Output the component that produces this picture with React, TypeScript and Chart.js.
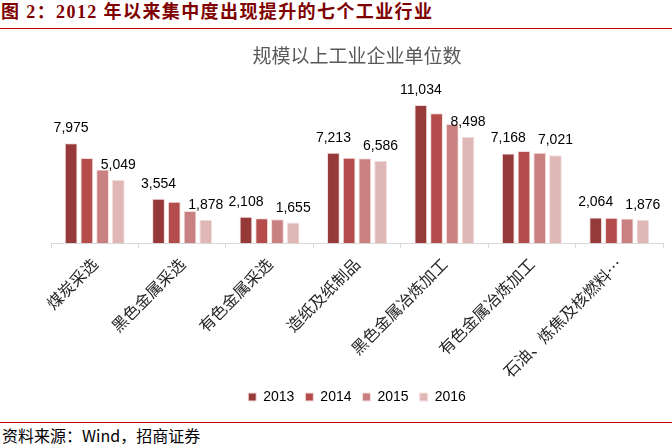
import React, { useEffect, useRef } from "react";
import { Chart, registerables } from "chart.js";

Chart.register(...registerables);

const categories = [
  "煤炭采选",
  "黑色金属采选",
  "有色金属采选",
  "造纸及纸制品",
  "黑色金属冶炼加工",
  "有色金属冶炼加工",
  "石油、炼焦及核燃料…",
];
const years = ["2013", "2014", "2015", "2016"];
const values2013 = [7975, 3554, 2108, 7213, 11034, 7168, 2064];
const values2014 = [6805, 3310, 2000, 6830, 10360, 7355, 2030];
const values2015 = [5885, 2578, 1920, 6780, 9514, 7225, 1980];
const values2016 = [5049, 1878, 1655, 6586, 8498, 7021, 1876];
const colors = ["#953A39", "#B34C4A", "#C98080", "#E0B7B7"];
const labelledSeries = [0, 3];

const headerTitle = "图 2：2012 年以来集中度出现提升的七个工业行业";
const chartTitle = "规模以上工业企业单位数";
const sourceText = "资料来源：Wind，招商证券";

const valueLabelPlugin = {
  id: "valueLabels",
  afterDatasetsDraw(chart: any) {
    const ctx = chart.ctx;
    ctx.save();
    ctx.font = '14px "Liberation Sans", Arial, sans-serif';
    ctx.fillStyle = "#000000";
    ctx.textAlign = "center";
    ctx.textBaseline = "alphabetic";
    labelledSeries.forEach((di) => {
      const meta = chart.getDatasetMeta(di);
      const data = chart.data.datasets[di].data as number[];
      meta.data.forEach((el: any, j: number) => {
        const txt = data[j].toLocaleString("en-US");
        ctx.fillText(txt, el.x, el.y - 11);
      });
    });
    ctx.restore();
  },
};

export default function App() {
  const canvasRef = useRef<HTMLCanvasElement | null>(null);

  useEffect(() => {
    if (!canvasRef.current) return;
    const series = [values2013, values2014, values2015, values2016];
    const chart = new Chart(canvasRef.current, {
      type: "bar",
      data: {
        labels: categories,
        datasets: series.map((vals, i) => ({
          label: years[i],
          data: vals,
          backgroundColor: colors[i],
          borderColor: "#F3DEDD",
          borderWidth: 1,
          categoryPercentage: 0.72,
          barPercentage: 0.81,
        })),
      },
      options: {
        animation: false,
        responsive: false,
        maintainAspectRatio: false,
        layout: { padding: { left: 51, right: 9, top: 0, bottom: 6 } },
        plugins: {
          title: {
            display: true,
            text: chartTitle,
            color: "#595959",
            font: { family: '"Noto Sans CJK SC", sans-serif', size: 19, weight: "normal" },
            padding: { top: 14, bottom: 23.5 },
          },
          legend: {
            display: true,
            position: "bottom",
            labels: {
              boxWidth: 8,
              boxHeight: 8,
              color: "#000000",
              font: { family: '"Liberation Sans", Arial, sans-serif', size: 14 },
              padding: 11,
            },
          },
          tooltip: { enabled: false },
        },
        scales: {
          x: {
            afterFit: (scale: any) => {
              scale.height = scale.height - 8;
            },
            grid: {
              display: true,
              drawOnChartArea: false,
              drawTicks: true,
              tickLength: 5,
              color: "#D9D9D9",
              offset: true,
            },
            border: { display: true, color: "#D9D9D9" },
            ticks: {
              autoSkip: false,
              maxRotation: 45,
              minRotation: 45,
              padding: 6,
              color: "#262626",
              font: { family: '"Noto Sans CJK SC", sans-serif', size: 16 },
            },
          },
          y: {
            display: false,
            min: 0,
            max: 12200,
          },
        },
      },
      plugins: [valueLabelPlugin],
    });
    return () => chart.destroy();
  }, []);

  return (
    <div
      style={{
        position: "fixed",
        left: 0,
        top: 0,
        width: 672,
        height: 445,
        background: "#ffffff",
        overflow: "hidden",
      }}
    >
      <div
        style={{
          position: "absolute",
          left: 1,
          top: 0,
          height: 25,
          lineHeight: "25px",
          fontSize: 18,
          fontWeight: "bold",
          letterSpacing: 1.4,
          color: "#7F0000",
          fontFamily: '"Liberation Serif", "Noto Sans CJK SC", serif',
          whiteSpace: "nowrap",
        }}
      >
        {headerTitle}
      </div>
      <div
        style={{
          position: "absolute",
          left: 0,
          top: 28,
          width: 672,
          height: 1,
          background: "#C00000",
        }}
      />
      <canvas
        ref={canvasRef}
        width={672}
        height={390}
        style={{ position: "absolute", left: 0, top: 30, width: 672, height: 390 }}
      />
      <div
        style={{
          position: "absolute",
          left: 0,
          top: 422,
          width: 672,
          height: 1,
          background: "#C00000",
        }}
      />
      <div
        style={{
          position: "absolute",
          left: 2,
          top: 425,
          height: 20,
          lineHeight: "20px",
          fontSize: 16,
          color: "#000000",
          fontFamily: '"Noto Sans CJK SC", "Liberation Sans", sans-serif',
          whiteSpace: "nowrap",
        }}
      >
        {sourceText}
      </div>
    </div>
  );
}
